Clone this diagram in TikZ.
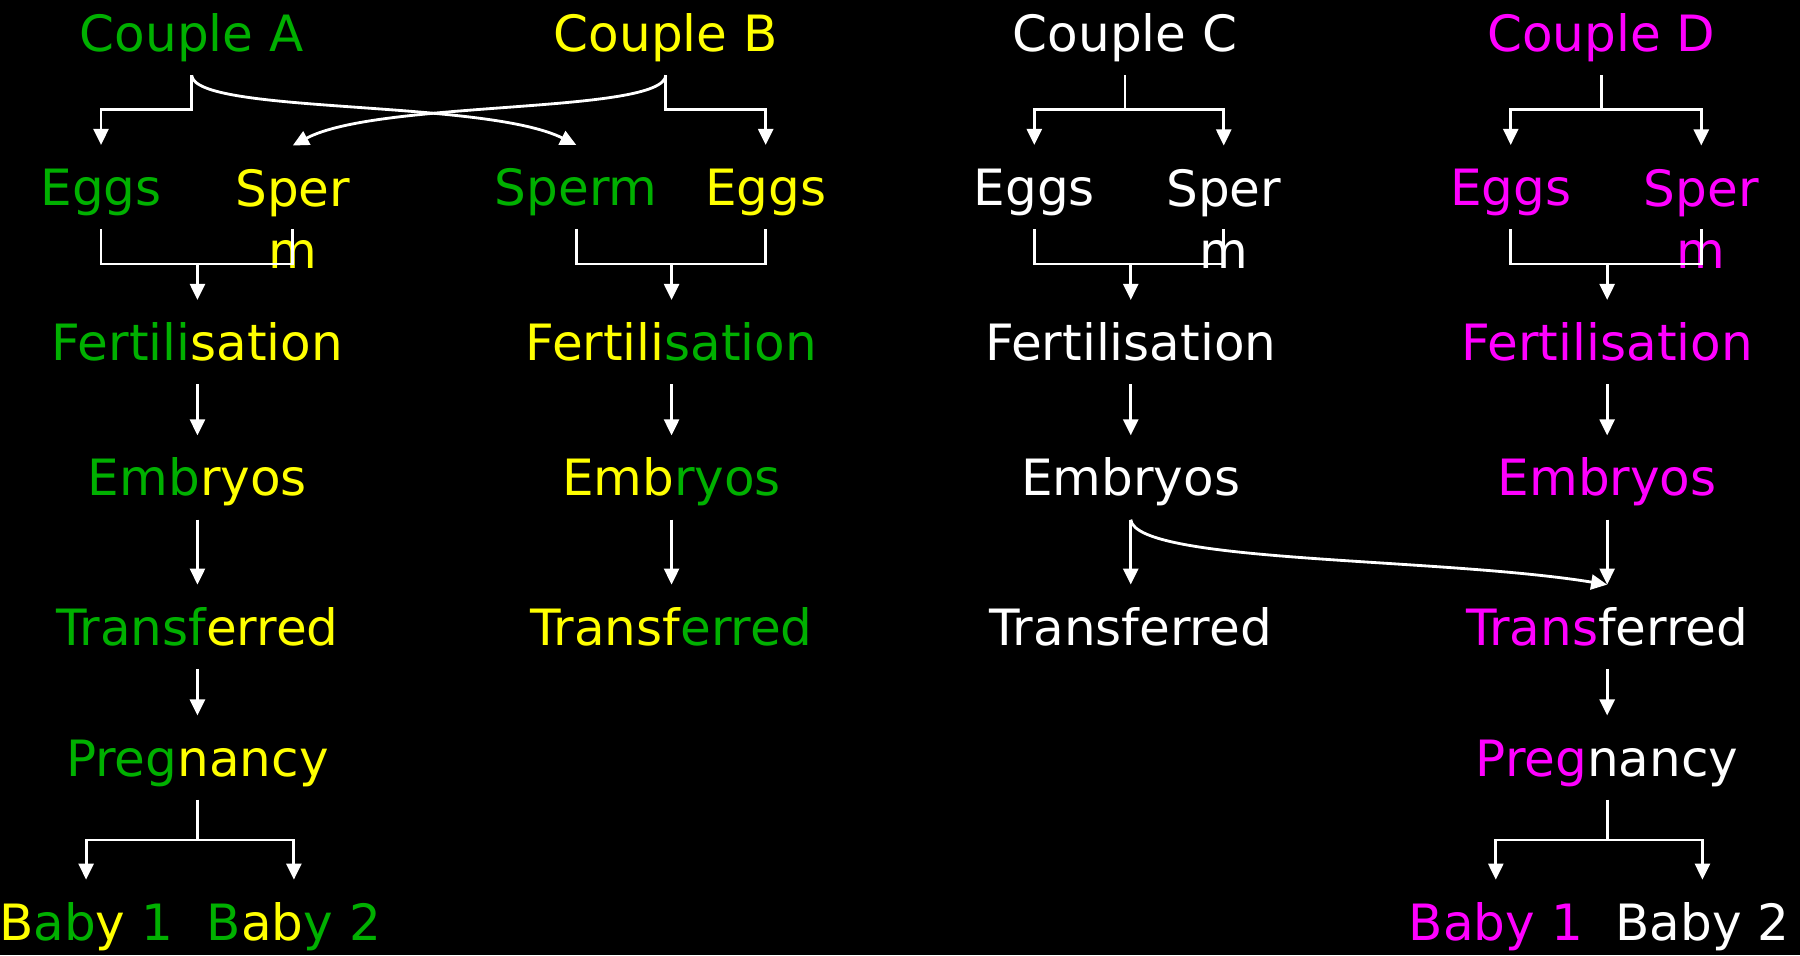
\documentclass[tikz,border=0pt]{standalone}
\usepackage{fontspec}
\setmainfont{DejaVu Sans}
\usepackage{xcolor}
\usetikzlibrary{arrows.meta}
\definecolor{ivfgreen}{RGB}{0,176,0}
\definecolor{ivfyellow}{RGB}{255,255,0}
\definecolor{ivfpink}{RGB}{255,0,255}
\newcommand{\cgr}[1]{\textcolor{ivfgreen}{#1}}
\newcommand{\cyl}[1]{\textcolor{ivfyellow}{#1}}
\newcommand{\cpk}[1]{\textcolor{ivfpink}{#1}}

\begin{document}
\begin{tikzpicture}[
  font=\fontsize{12.4}{15.5}\selectfont, >={Triangle[length=1.4mm,width=1.3mm]},
  lbl/.style={anchor=base, text height=0.32cm, text depth=0pt,
              inner xsep=0pt, inner ysep=0.2cm, text=white},
  sperbox/.style={lbl, align=center, text height=0.865cm},
  ln/.style={draw=white, line width=0.7pt},
  arr/.style={ln, ->},
]
\path[fill=black, use as bounding box] (0,0) rectangle (15.68,-8.32);

% couple A
\node[lbl] (coupleA) at (1.67,-0.45)  {\cgr{Couple A}};
\node[lbl] (eggsA)   at (0.88,-1.79)  {\cgr{Eggs}};
\node[sperbox] (sperA) at (2.55,-2.34) {\cyl{Sper}\\\cyl{m}};
\node[lbl] (fertA)   at (1.72,-3.14)  {\cgr{Fertili}\cyl{sation}};
\node[lbl] (embA)    at (1.72,-4.32)  {\cgr{Emb}\cyl{ryos}};
\node[lbl] (transA)  at (1.72,-5.62)  {\cgr{Transf}\cyl{erred}};
\node[lbl] (pregA)   at (1.72,-6.76)  {\cgr{Preg}\cyl{nancy}};
\node[lbl] (babyA1)  at (0.75,-8.19)  {\cyl{B}\cgr{ab}\cyl{y} \cgr{1}};
\node[lbl] (babyA2)  at (2.56,-8.19)  {\cgr{B}\cyl{ab}\cgr{y 2}};
\coordinate (jA) at (1.72,-2.30);

% couple B
\node[lbl] (coupleB) at (5.80,-0.45)  {\cyl{Couple B}};
\node[lbl] (spermB)  at (5.02,-1.79)  {\cgr{Sperm}};
\node[lbl] (eggsB)   at (6.67,-1.79)  {\cyl{Eggs}};
\node[lbl] (fertB)   at (5.85,-3.14)  {\cyl{Fertili}\cgr{sation}};
\node[lbl] (embB)    at (5.85,-4.32)  {\cyl{Emb}\cgr{ryos}};
\node[lbl] (transB)  at (5.85,-5.62)  {\cyl{Transf}\cgr{erred}};
\coordinate (jB) at (5.85,-2.30);

% couple C
\node[lbl] (coupleC) at (9.80,-0.45)  {Couple C};
\node[lbl] (eggsC)   at (9.01,-1.79)  {Eggs};
\node[sperbox] (sperC) at (10.66,-2.34) {Sper\\m};
\node[lbl] (fertC)   at (9.85,-3.14)  {Fertilisation};
\node[lbl] (embC)    at (9.85,-4.32)  {Embryos};
\node[lbl] (transC)  at (9.85,-5.62)  {Transferred};
\coordinate (jC) at (9.85,-2.30);

% couple D
\node[lbl] (coupleD) at (13.95,-0.45) {\cpk{Couple D}};
\node[lbl] (eggsD)   at (13.16,-1.79) {\cpk{Eggs}};
\node[sperbox] (sperD) at (14.82,-2.34) {\cpk{Sper}\\\cpk{m}};
\node[lbl] (fertD)   at (14.00,-3.14) {\cpk{Fertilisation}};
\node[lbl] (embD)    at (14.00,-4.32) {\cpk{Embryos}};
\node[lbl] (transD)  at (14.00,-5.62) {\cpk{Trans}ferred};
\node[lbl] (pregD)   at (14.00,-6.76) {\cpk{Preg}nancy};
\node[lbl] (babyD1)  at (13.03,-8.19) {\cpk{Baby 1}};
\node[lbl] (babyD2)  at (14.83,-8.19) {Baby 2};
\coordinate (jD) at (14.00,-2.30);

% A and B swap sperm
\draw[arr] (coupleA.south) -- ++(0,-0.3) -| (eggsA.north);
\draw[arr] (coupleA.south) .. controls +(0.03,-0.34) and +(-0.8,0.4) .. (spermB.north);
\draw[arr] (coupleB.south) -- ++(0,-0.3) -| (eggsB.north);
\draw[arr] (coupleB.south) .. controls +(-0.03,-0.34) and +(0.75,0.4) .. (sperA.north);
\draw[arr] (coupleC.south) -- ++(0,-0.3) -| (eggsC.north);
\draw[arr] (coupleC.south) -- ++(0,-0.3) -| (sperC.north);
\draw[arr] (coupleD.south) -- ++(0,-0.3) -| (eggsD.north);
\draw[arr] (coupleD.south) -- ++(0,-0.3) -| (sperD.north);

\draw[ln] (eggsA.south) |- (jA) -| (sperA.north |- eggsA.south);
\draw[ln] (spermB.south) |- (jB) -| (eggsB.south);
\draw[ln] (eggsC.south) |- (jC) -| (sperC.north |- eggsC.south);
\draw[ln] (eggsD.south) |- (jD) -| (sperD.north |- eggsD.south);
\draw[arr] (jA) -- (fertA.north);
\draw[arr] (jB) -- (fertB.north);
\draw[arr] (jC) -- (fertC.north);
\draw[arr] (jD) -- (fertD.north);

\draw[arr] (fertA.south) -- (embA.north);
\draw[arr] (embA.south) -- (transA.north);
\draw[arr] (transA.south) -- (pregA.north);
\draw[arr] (pregA.south) -- ++(0,-0.35) -| (babyA1.north);
\draw[arr] (pregA.south) -- ++(0,-0.35) -| (babyA2.north);
\draw[arr] (fertB.south) -- (embB.north);
\draw[arr] (embB.south) -- (transB.north);
\draw[arr] (fertC.south) -- (embC.north);
\draw[arr] (embC.south) -- (transC.north);
\draw[arr] (fertD.south) -- (embD.north);
\draw[arr] (embD.south) -- (transD.north);
\draw[arr] (transD.south) -- (pregD.north);
\draw[arr] (pregD.south) -- ++(0,-0.35) -| (babyD1.north);
\draw[arr] (pregD.south) -- ++(0,-0.35) -| (babyD2.north);

% C embryos go to D
\draw[arr] (embC.south) .. controls +(0.05,-0.38) and +(-1.48,0.24) .. (transD.north);
\end{tikzpicture}
\end{document}
